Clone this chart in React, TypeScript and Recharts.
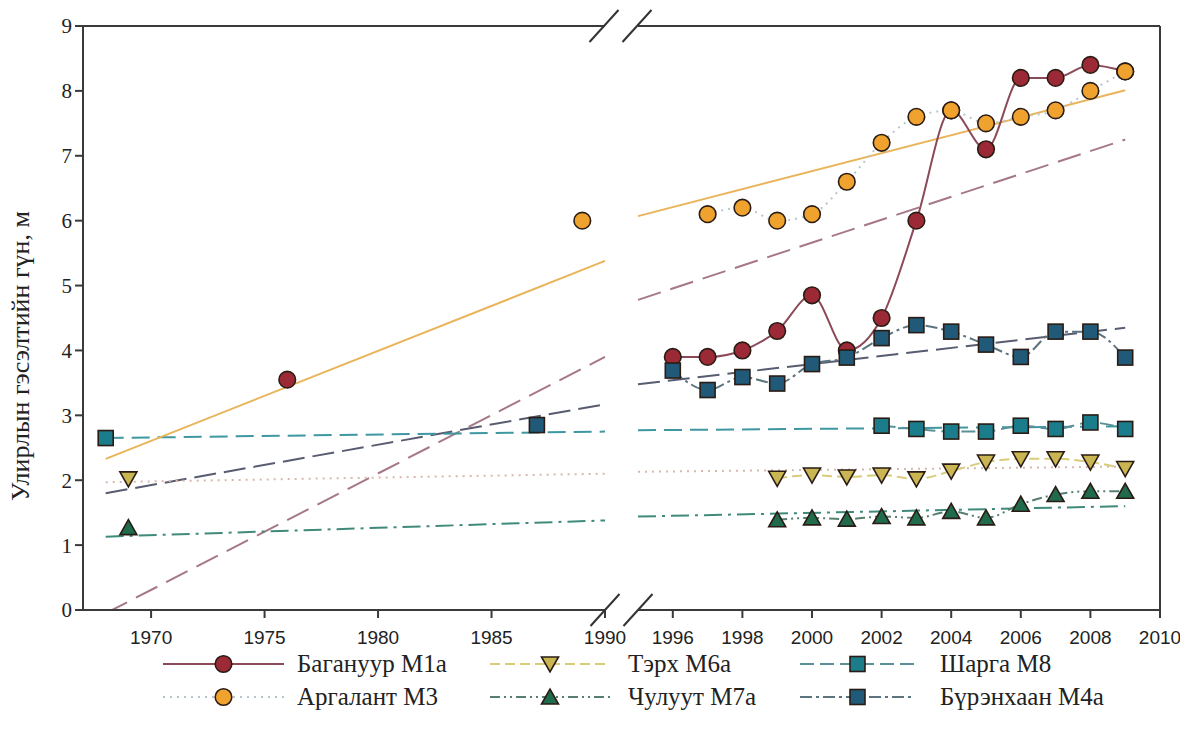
import React from "react";
import { LineChart, Line, XAxis, YAxis, ReferenceLine } from "recharts";

// x-axis is broken: 1967–1990 on the left, 1995–2010 on the right
const leftTicks = [1970, 1975, 1980, 1985, 1990];
const rightTicks = [1996, 1998, 2000, 2002, 2004, 2006, 2008, 2010];
const yTicks = [0, 1, 2, 3, 4, 5, 6, 7, 8, 9];

const rightYears = [1996, 1997, 1998, 1999, 2000, 2001, 2002, 2003, 2004, 2005, 2006, 2007, 2008, 2009];

const baganuurValues = [3.9, 3.9, 4.0, 4.3, 4.85, 4.0, 4.5, 6.0, 7.7, 7.1, 8.2, 8.2, 8.4, 8.3];
const argalantValues = [null, 6.1, 6.2, 6.0, 6.1, 6.6, 7.2, 7.6, 7.7, 7.5, 7.6, 7.7, 8.0, 8.3];
const terkhValues = [null, null, null, 2.03, 2.08, 2.05, 2.08, 2.02, 2.14, 2.28, 2.33, 2.33, 2.28, 2.18];
const chuluutValues = [null, null, null, 1.39, 1.42, 1.4, 1.44, 1.42, 1.52, 1.42, 1.63, 1.78, 1.83, 1.83];
const shargaValues = [null, null, null, null, null, null, 2.84, 2.79, 2.75, 2.75, 2.84, 2.79, 2.89, 2.79];
const burenkhaanValues = [3.69, 3.39, 3.59, 3.49, 3.79, 3.89, 4.19, 4.39, 4.29, 4.09, 3.9, 4.29, 4.29, 3.89];

// single early observations (order: Багануур, Аргалант, Тэрх, Чулуут, Шарга, Бүрэнхаан)
const earlyYears = [1976, 1989, 1969, 1969, 1968, 1987];
const earlyValues = [3.55, 6.0, 2.02, 1.27, 2.65, 2.85];

// linear trends, drawn in two pieces either side of the break
const trendLeftYears = [1968, 1990];
const trendRightYears = [1995, 2009];
const baganuurTrendLeft = [-0.05, 3.9];
const baganuurTrendRight = [4.78, 7.25];
const argalantTrendLeft = [2.33, 5.38];
const argalantTrendRight = [6.07, 8.01];
const terkhTrendLeft = [1.97, 2.1];
const terkhTrendRight = [2.13, 2.21];
const chuluutTrendLeft = [1.13, 1.38];
const chuluutTrendRight = [1.44, 1.6];
const shargaTrendLeft = [2.65, 2.75];
const shargaTrendRight = [2.77, 2.83];
const burenkhaanTrendLeft = [1.8, 3.17];
const burenkhaanTrendRight = [3.48, 4.35];

const rows = (years: number[], values: (number | null)[]) =>
  years.map((year, i) => ({ year, v: values[i] })).filter((r) => r.v != null);

const series = [
  {
    name: "Багануур М1а", early: 0, values: baganuurValues, tl: baganuurTrendLeft, tr: baganuurTrendRight,
    shape: "circle", fill: "#9b2a36", line: "#8a4a58", dash: undefined,
    trend: "#a67887", trendDash: "24 10",
  },
  {
    name: "Бүрэнхаан М4а", early: 5, values: burenkhaanValues, tl: burenkhaanTrendLeft, tr: burenkhaanTrendRight,
    shape: "square", fill: "#215a78", line: "#5c7480", dash: "12 4 3 4",
    trend: "#585c70", trendDash: "22 8",
  },
  {
    name: "Шарга М8", early: 4, values: shargaValues, tl: shargaTrendLeft, tr: shargaTrendRight,
    shape: "square", fill: "#1b7d8c", line: "#5a9098", dash: "14 6",
    trend: "#3f97a1", trendDash: "18 8",
  },
  {
    name: "Чулуут М7а", early: 3, values: chuluutValues, tl: chuluutTrendLeft, tr: chuluutTrendRight,
    shape: "up", fill: "#1f6b4c", line: "#587e72", dash: "10 4 2 4 2 4",
    trend: "#3f8a7a", trendDash: "18 6 3 6",
  },
  {
    name: "Тэрх М6а", early: 2, values: terkhValues, tl: terkhTrendLeft, tr: terkhTrendRight,
    shape: "down", fill: "#c9b552", line: "#d8cc7a", dash: "10 5",
    trend: "#d8b8aa", trendDash: "2 5",
  },
  {
    name: "Аргалант М3", early: 1, values: argalantValues, tl: argalantTrendLeft, tr: argalantTrendRight,
    shape: "circle", fill: "#f0a22e", line: "#b8c6cc", dash: "2 5",
    trend: "#e9b45a", trendDash: undefined,
  },
];

const legendOrder = [
  ["Багануур М1а", "Аргалант М3"],
  ["Тэрх М6а", "Чулуут М7а"],
  ["Шарга М8", "Бүрэнхаан М4а"],
];

const AXIS = "#3a3a3a";

function Marker({ shape, cx, cy, fill }: { shape: string; cx: number; cy: number; fill: string }) {
  const stroke = "#2a1c14";
  if (shape === "circle") return <circle cx={cx} cy={cy} r={8.3} fill={fill} stroke={stroke} strokeWidth={1.6} />;
  if (shape === "square")
    return <rect x={cx - 7.5} y={cy - 7.5} width={15} height={15} fill={fill} stroke={stroke} strokeWidth={1.6} />;
  if (shape === "up")
    return (
      <polygon
        points={`${cx - 8.5},${cy + 7} ${cx + 8.5},${cy + 7} ${cx},${cy - 8}`}
        fill={fill}
        stroke={stroke}
        strokeWidth={1.6}
      />
    );
  return (
    <polygon
      points={`${cx - 8.5},${cy - 7} ${cx + 8.5},${cy - 7} ${cx},${cy + 8}`}
      fill={fill}
      stroke={stroke}
      strokeWidth={1.6}
    />
  );
}

const dotFor = (shape: string, fill: string) => (p: any) =>
  p.cx == null ? <g key={p.index} /> : <Marker key={p.index} shape={shape} cx={p.cx} cy={p.cy} fill={fill} />;

const yTickStyle = { fontFamily: "'Liberation Serif', serif", fontSize: 21, fill: "#222" };
const xTickStyle = { fontFamily: "'Liberation Sans', sans-serif", fontSize: 19, fill: "#222" };

function trendLines(side: "left" | "right") {
  return series.map((s) => (
    <Line
      key={`trend-${side}-${s.name}`}
      data={rows(side === "left" ? trendLeftYears : trendRightYears, side === "left" ? s.tl : s.tr)}
      dataKey="v"
      type="linear"
      stroke={s.trend}
      strokeWidth={2}
      strokeDasharray={s.trendDash}
      dot={false}
      activeDot={false}
      isAnimationActive={false}
    />
  ));
}

function LeftPanel() {
  return (
    <LineChart width={640} height={650} margin={{ top: 26, right: 35, left: 0, bottom: 0 }}>
      <XAxis
        type="number"
        dataKey="year"
        domain={[1967, 1990]}
        ticks={leftTicks}
        interval={0}
        height={40}
        tick={xTickStyle}
        tickSize={8}
        tickMargin={13}
        stroke={AXIS}
        strokeWidth={2}
      />
      <YAxis
        domain={[0, 9]}
        ticks={yTicks}
        interval={0}
        allowDataOverflow
        width={83}
        tick={yTickStyle}
        tickSize={8}
        tickMargin={3}
        stroke={AXIS}
        strokeWidth={2}
      />
      <ReferenceLine y={9} stroke={AXIS} strokeWidth={2} />
      {trendLines("left")}
      {series.map((s) => (
        <Line
          key={`early-${s.name}`}
          data={[{ year: earlyYears[s.early], v: earlyValues[s.early] }]}
          dataKey="v"
          stroke="none"
          dot={dotFor(s.shape, s.fill)}
          activeDot={false}
          isAnimationActive={false}
        />
      ))}
    </LineChart>
  );
}

function RightPanel() {
  return (
    <LineChart width={560} height={650} margin={{ top: 26, right: 20, left: 18, bottom: 0 }}>
      <XAxis
        type="number"
        dataKey="year"
        domain={[1995, 2010]}
        ticks={rightTicks}
        interval={0}
        height={40}
        tick={xTickStyle}
        tickSize={8}
        tickMargin={13}
        stroke={AXIS}
        strokeWidth={2}
      />
      <YAxis hide domain={[0, 9]} allowDataOverflow />
      <ReferenceLine y={9} stroke={AXIS} strokeWidth={2} />
      <ReferenceLine x={2010} stroke={AXIS} strokeWidth={2} />
      {trendLines("right")}
      {series.map((s) => (
        <Line
          key={`obs-${s.name}`}
          data={rows(rightYears, s.values)}
          dataKey="v"
          type="monotone"
          stroke={s.line}
          strokeWidth={2}
          strokeDasharray={s.dash}
          dot={dotFor(s.shape, s.fill)}
          activeDot={false}
          isAnimationActive={false}
        />
      ))}
    </LineChart>
  );
}

function Legend() {
  const colX = [{ line: [163, 284], text: 297 }, { line: [490, 610], text: 628 }, { line: [800, 915], text: 940 }];
  const rowY = [664, 697];
  return (
    <svg width={1184} height={741} style={{ position: "absolute", left: 0, top: 0, pointerEvents: "none" }}>
      {legendOrder.map((col, ci) =>
        col.map((name, ri) => {
          const s = series.find((d) => d.name === name)!;
          const [x1, x2] = colX[ci].line;
          const y = rowY[ri];
          return (
            <g key={name}>
              <line x1={x1} x2={x2} y1={y} y2={y} stroke={s.line} strokeWidth={2} strokeDasharray={s.dash} />
              <Marker shape={s.shape} cx={(x1 + x2) / 2} cy={y} fill={s.fill} />
              <text
                x={colX[ci].text}
                y={y + 8}
                fontFamily="'Liberation Serif', serif"
                fontSize={25}
                fill="#222"
              >
                {name}
              </text>
            </g>
          );
        })
      )}
      {/* axis break marks */}
      {[
        [604, 26],
        [637, 26],
        [605, 610],
        [638, 610],
      ].map(([cx, cy], i) => (
        <line key={i} x1={cx - 14.5} y1={cy + 16} x2={cx + 14.5} y2={cy - 16} stroke="#333" strokeWidth={2} />
      ))}
      <text
        transform="translate(29, 356) rotate(-90)"
        textAnchor="middle"
        fontFamily="'Liberation Serif', serif"
        fontSize={26}
        fill="#222"
      >
        Улирлын гэсэлтийн гүн, м
      </text>
    </svg>
  );
}

export default function App() {
  return (
    <div style={{ position: "absolute", left: 0, top: 0, width: 1184, height: 741, background: "#fff" }}>
      <div style={{ position: "absolute", left: 0, top: 0 }}>
        <LeftPanel />
      </div>
      <div style={{ position: "absolute", left: 620, top: 0 }}>
        <RightPanel />
      </div>
      <Legend />
    </div>
  );
}
